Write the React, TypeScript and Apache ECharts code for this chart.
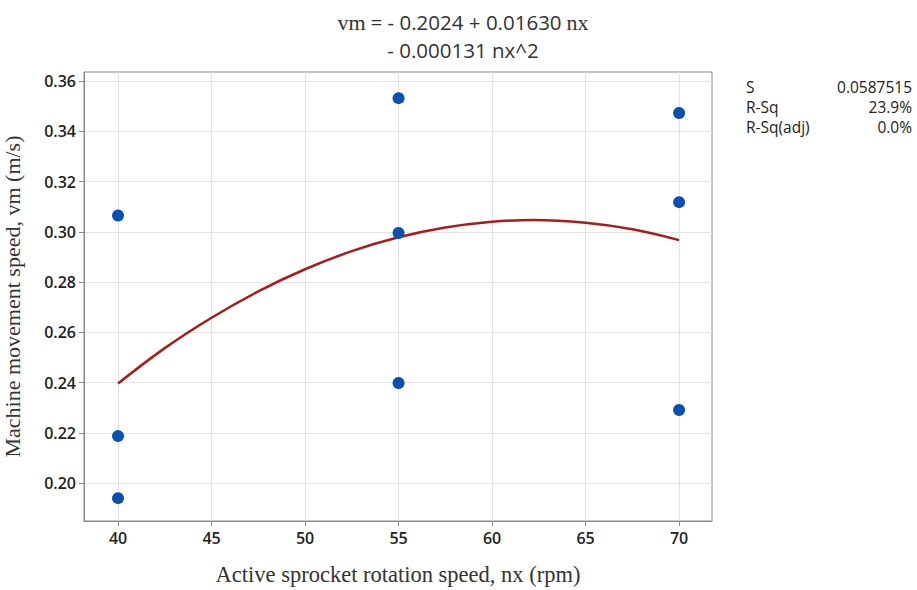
import React, { useEffect, useRef } from "react";
import * as echarts from "echarts";

const xTicks = [40, 45, 50, 55, 60, 65, 70];
const yTicks = [0.2, 0.22, 0.24, 0.26, 0.28, 0.3, 0.32, 0.34, 0.36];
const observedX = [40, 40, 40, 55, 55, 55, 70, 70, 70];
const observedY = [0.3065, 0.2187, 0.194, 0.3532, 0.2995, 0.2398, 0.3473, 0.3118, 0.2291];
const fitX = [40, 42.5, 45, 47.5, 50, 52.5, 55, 57.5, 60, 62.2, 65, 67.5, 70];
const fitY = [0.2396, 0.2537, 0.2658, 0.2763, 0.2851, 0.2923, 0.2978, 0.3017, 0.304, 0.3047, 0.3036, 0.301, 0.2967];
const statLabels = ["S", "R-Sq", "R-Sq(adj)"];
const statValues = ["0.0587515", "23.9%", "0.0%"];

export default function App() {
  const ref = useRef<HTMLDivElement>(null);
  useEffect(() => {
    if (!ref.current) return;
    const chart = echarts.init(ref.current, null, { renderer: "svg" });
    const sans = "'Open Sans', 'Noto Sans', sans-serif";
    const serif = "'Liberation Serif', 'DejaVu Serif', serif";
    const gridColor = "#e3e3e3";
    const axisColor = "#8a8a8a";
    const statGraphics: any[] = [];
    statLabels.forEach((l, i) => {
      statGraphics.push({
        type: "text", left: 746, top: 79 + i * 20,
        style: { text: l, font: `15.5px ${sans}`, fill: "#222" },
      });
      statGraphics.push({
        type: "text", right: 5, top: 79 + i * 20,
        style: { text: statValues[i], font: `15.5px ${sans}`, fill: "#222", align: "right" },
      });
    });
    chart.setOption({
      animation: false,
      backgroundColor: "#fff",
      title: {
        text: "{s|vm} {n|= - 0.2024 + 0.01630} {s|nx}\n{n|- 0.000131 nx^2}",
        left: 458,
        top: 3,
        textAlign: "center",
        textStyle: {
          fontWeight: "normal",
          rich: {
            s: { fontFamily: serif, fontSize: 22, fontWeight: "normal", color: "#333", lineHeight: 28 },
            n: { fontFamily: sans, fontSize: 20.5, fontWeight: "normal", color: "#333", lineHeight: 28 },
          },
        },
      },
      graphic: statGraphics,
      grid: { left: 84, top: 72, width: 628, height: 449, show: true, borderColor: axisColor, borderWidth: 1, backgroundColor: "#fff", outerBoundsMode: "none", containLabel: false },
      xAxis: {
        type: "value",
        min: 38.18,
        max: 71.76,
        name: "Active sprocket rotation speed, nx (rpm)",
        nameLocation: "middle",
        nameGap: 42,
        nameTextStyle: { fontFamily: serif, fontSize: 22.5, color: "#333" },
        axisLine: { show: true, onZero: false, lineStyle: { color: axisColor } },
        axisTick: { show: true, length: 5, lineStyle: { color: axisColor }, customValues: xTicks },
        axisLabel: { customValues: xTicks, fontFamily: sans, fontSize: 16, fontWeight: 600, color: "#222", margin: 9 },
        splitLine: { show: true, lineStyle: { color: gridColor } },
      },
      yAxis: {
        type: "value",
        min: 0.1849,
        max: 0.3636,
        name: "Machine movement speed, vm (m/s)",
        nameLocation: "middle",
        nameGap: 61,
        nameTextStyle: { fontFamily: serif, fontSize: 22, color: "#333" },
        axisLine: { show: true, onZero: false, lineStyle: { color: axisColor } },
        axisTick: { show: true, length: 5, lineStyle: { color: axisColor }, customValues: yTicks },
        axisLabel: {
          customValues: yTicks, fontFamily: sans, fontSize: 16, fontWeight: 600, color: "#222", margin: 8,
          formatter: (v: number) => v.toFixed(2),
        },
        splitLine: { show: true, lineStyle: { color: gridColor } },
      },
      series: [
        {
          type: "line",
          data: fitX.map((x, i) => [x, fitY[i]]),
          smooth: 0.4,
          showSymbol: false,
          lineStyle: { color: "#a81c1c", width: 2.5 },
          z: 2,
        },
        {
          type: "scatter",
          data: observedX.map((x, i) => [x, observedY[i]]),
          symbolSize: 12,
          itemStyle: { color: "#0a50b0", opacity: 1 },
          z: 3,
        },
      ],
    });
    return () => chart.dispose();
  }, []);
  return <div ref={ref} style={{ position: "absolute", left: 0, top: 0, width: 917, height: 590 }} />;
}
